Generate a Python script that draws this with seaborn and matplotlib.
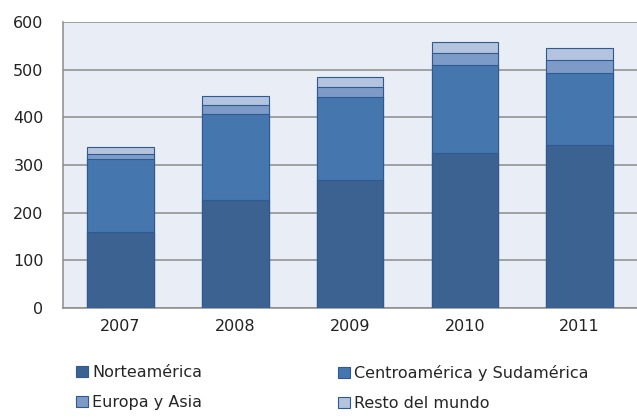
import matplotlib.pyplot as plt
import seaborn as sns
import pandas as pd
from matplotlib.patches import Patch

years = ['2007', '2008', '2009', '2010', '2011']
norte = [160, 227, 268, 326, 343]
centro = [153, 181, 174, 184, 151]
europa = [10, 18, 21, 26, 27]
resto = [15, 19, 22, 22, 25]

labels = ['Norteamérica', 'Centroamérica y Sudamérica', 'Europa y Asia', 'Resto del mundo']
colors = ['#3b6291', '#4576ae', '#7e9bc8', '#b4c3de']

df = pd.DataFrame({'year': years, 'n': norte, 'c': centro, 'e': europa, 'r': resto})
df['l1'] = df.n
df['l2'] = df.l1 + df.c
df['l3'] = df.l2 + df.e
df['l4'] = df.l3 + df.r

sns.set_style('white')
plt.rcParams['font.family'] = ['DejaVu Sans']

fig = plt.figure(figsize=(6.37, 4.17), dpi=100)
ax = fig.add_axes([0.099, 0.261, 0.901, 0.686])
ax.set_facecolor('#e9edf5')

# draw cumulative totals from the top down so each layer covers the next
for col, c in zip(['l4', 'l3', 'l2', 'l1'], colors[::-1]):
    sns.barplot(data=df, x='year', y=col, color=c, width=0.58,
                edgecolor='#2f5a8f', linewidth=0.8, saturation=1, ax=ax, zorder=3)

ax.set_ylim(0, 600)
ax.set_yticks(range(0, 601, 100))
ax.set_xlim(-0.5, 4.5)
ax.set_xlabel('')
ax.set_ylabel('')
ax.yaxis.grid(True, color='#8c8c8c', linewidth=1.1, zorder=1)
ax.set_axisbelow(True)
for s in ['top', 'right']:
    ax.spines[s].set_visible(False)
for s in ['left', 'bottom']:
    ax.spines[s].set_color('#8c8c8c')
    ax.spines[s].set_linewidth(1.1)
ax.tick_params(axis='both', length=0, labelsize=11.5, colors='#222222', pad=8)
ax.tick_params(axis='y', pad=14)

h = [Patch(facecolor=colors[i], edgecolor='#2f5a8f', linewidth=0.8) for i in range(4)]
kw = dict(frameon=False, fontsize=11.5, handlelength=0.75, handleheight=0.75,
          handletextpad=0.25, labelspacing=0.95, loc='upper left', borderaxespad=0)
fig.legend([h[0], h[2]], [labels[0], labels[2]], bbox_to_anchor=(0.11, 0.14), **kw)
fig.legend([h[1], h[3]], [labels[1], labels[3]], bbox_to_anchor=(0.52, 0.14), **kw)

fig.savefig('out.png', dpi=100)
